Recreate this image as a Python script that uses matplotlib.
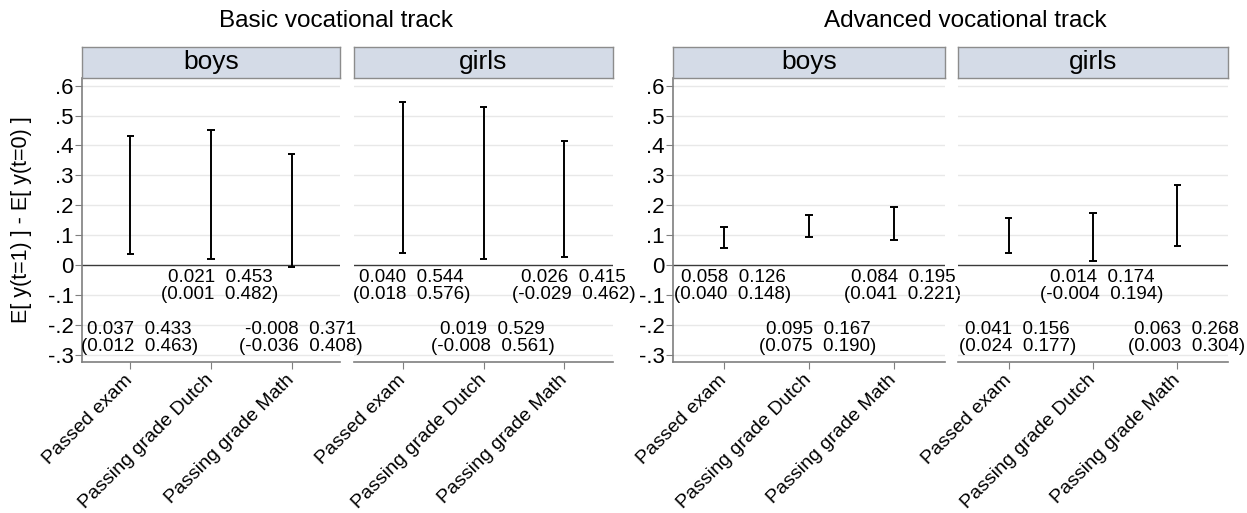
import matplotlib
matplotlib.use("Agg")
import matplotlib.pyplot as plt

plt.rcParams['font.family'] = ['Liberation Sans', 'DejaVu Sans']

categories = ["Passed exam", "Passing grade Dutch", "Passing grade Math"]
groups = ["Basic vocational track", "Advanced vocational track"]
sexes = ["boys", "girls"]

# interval bounds (first line) and bracketed bounds (second line)
basic_boys_lo = [0.037, 0.021, -0.008]
basic_boys_hi = [0.433, 0.453, 0.371]
basic_boys_blo = [0.012, 0.001, -0.036]
basic_boys_bhi = [0.463, 0.482, 0.408]

basic_girls_lo = [0.040, 0.019, 0.026]
basic_girls_hi = [0.544, 0.529, 0.415]
basic_girls_blo = [0.018, -0.008, -0.029]
basic_girls_bhi = [0.576, 0.561, 0.462]

adv_boys_lo = [0.058, 0.095, 0.084]
adv_boys_hi = [0.126, 0.167, 0.195]
adv_boys_blo = [0.040, 0.075, 0.041]
adv_boys_bhi = [0.148, 0.190, 0.221]

adv_girls_lo = [0.041, 0.014, 0.063]
adv_girls_hi = [0.156, 0.174, 0.268]
adv_girls_blo = [0.024, -0.004, 0.003]
adv_girls_bhi = [0.177, 0.194, 0.304]

# label row for each interval: 'h' = just below zero, 'l' = lower row
basic_boys_row = ['l', 'h', 'l']
basic_girls_row = ['h', 'l', 'h']
adv_boys_row = ['h', 'l', 'h']
adv_girls_row = ['l', 'h', 'l']

yticks = [-0.3, -0.2, -0.1, 0, 0.1, 0.2, 0.3, 0.4, 0.5, 0.6]
ytick_labels = ["-.3", "-.2", "-.1", "0", ".1", ".2", ".3", ".4", ".5", ".6"]

panels = [
    (basic_boys_lo, basic_boys_hi, basic_boys_blo, basic_boys_bhi, basic_boys_row, sexes[0]),
    (basic_girls_lo, basic_girls_hi, basic_girls_blo, basic_girls_bhi, basic_girls_row, sexes[1]),
    (adv_boys_lo, adv_boys_hi, adv_boys_blo, adv_boys_bhi, adv_boys_row, sexes[0]),
    (adv_girls_lo, adv_girls_hi, adv_girls_blo, adv_girls_bhi, adv_girls_row, sexes[1]),
]

W, H = 1247, 513
fig = plt.figure(figsize=(W / 100, H / 100), dpi=100)
fig.patch.set_facecolor("white")

px_lefts = [82, 354, 673, 958]
px_rights = [340, 613, 945, 1228]
ax_top_px, ax_bot_px, strip_top_px = 78, 362, 47

strip_color = "#d4dbe7"
grid_color = "#e8e8e8"
axis_color = "#7f7f7f"

for i, (lo, hi, blo, bhi, rows, strip) in enumerate(panels):
    l = px_lefts[i] / W
    w = (px_rights[i] - px_lefts[i]) / W
    b = 1 - ax_bot_px / H
    h = (ax_bot_px - ax_top_px) / H
    ax = fig.add_axes([l, b, w, h])
    ax.patch.set_visible(False)
    x = list(range(1, len(categories) + 1))
    ax.set_xlim(0.4, 3.6)
    ax.set_ylim(-0.325, 0.626)
    for yv in yticks:
        if yv == 0:
            ax.axhline(0, color="#3a3a3a", lw=1.0, zorder=1)
        else:
            ax.axhline(yv, color=grid_color, lw=1.0, zorder=0)
    for xi, a, c in zip(x, lo, hi):
        ax.vlines(xi, a, c, color="black", lw=1.4, zorder=3)
        ax.hlines([a, c], xi - 0.045, xi + 0.045, color="black", lw=1.4, zorder=3)
    for xi, a, c, ba, bc, r in zip(x, lo, hi, blo, bhi, rows):
        yc = -0.07 if r == 'h' else -0.243
        ax.annotate(f"{a:.3f}  {c:.3f}\n({ba:.3f}  {bc:.3f})", xy=(xi, yc),
                    xytext=(6.5, 0), textcoords="offset points",
                    ha="center", va="center", fontsize=13.5, linespacing=1.0,
                    annotation_clip=False, zorder=5)
    ax.set_xticks(x)
    ax.set_xticklabels(categories, rotation=45, ha="right", va="center",
                       rotation_mode="anchor", fontsize=14)
    ax.tick_params(axis="x", length=5, color=axis_color, pad=6)
    for s in ["top", "right"]:
        ax.spines[s].set_visible(False)
    ax.spines["bottom"].set_color(axis_color)
    ax.spines["bottom"].set_linewidth(1.2)
    if i in (0, 2):
        ax.spines["left"].set_color(axis_color)
        ax.spines["left"].set_linewidth(1.2)
        ax.set_yticks(yticks)
        ax.set_yticklabels(ytick_labels, fontsize=16)
        ax.tick_params(axis="y", length=5, color=axis_color, pad=1)
    else:
        ax.spines["left"].set_visible(False)
        ax.set_yticks([])
    if i == 0:
        ax.set_ylabel("E[ y(t=1) ] - E[ y(t=0) ]", fontsize=15.5, labelpad=11)
    # strip
    sax = fig.add_axes([l, 1 - ax_top_px / H, w, (ax_top_px - strip_top_px) / H])
    sax.set_facecolor(strip_color)
    sax.set_xticks([])
    sax.set_yticks([])
    for s in sax.spines.values():
        s.set_color("#8c8c8c")
        s.set_linewidth(1.0)
    sax.text(0.5, 0.5, strip, ha="center", va="center", fontsize=19,
             transform=sax.transAxes)

fig.text(336 / W, 1 - 21 / H, groups[0], ha="center", va="center", fontsize=17.5)
fig.text(965 / W, 1 - 21 / H, groups[1], ha="center", va="center", fontsize=17.5)

fig.savefig("out.png", dpi=100, facecolor="white")
